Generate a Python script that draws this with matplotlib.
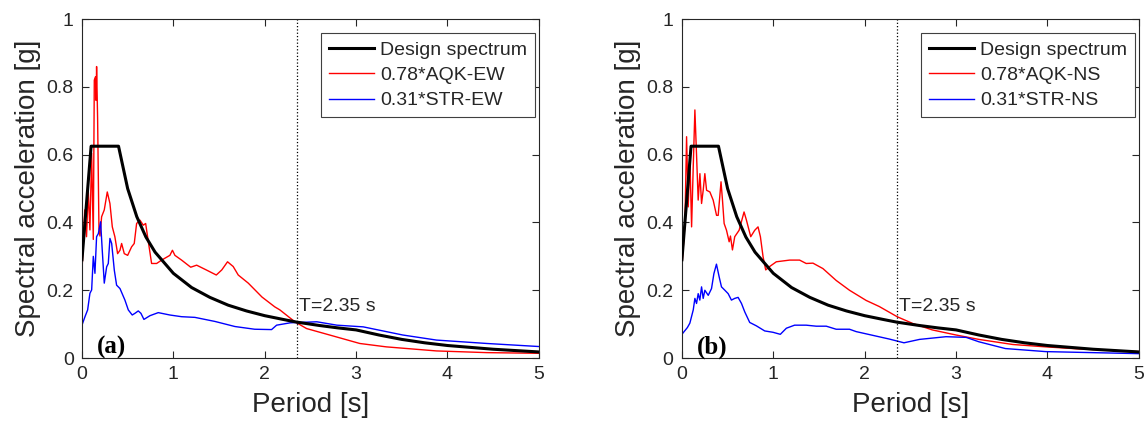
import matplotlib
matplotlib.use("Agg")
import matplotlib.pyplot as plt

plt.rcParams['font.family'] = ['Liberation Sans', 'DejaVu Sans']

# Design spectrum (same for both components)
ds_T = [0, 0.1, 0.4, 0.5, 0.6, 0.7, 0.8, 1.0, 1.2, 1.4, 1.6, 1.8, 2.0, 2.2, 2.35,
        2.6, 2.8, 3.0, 3.25, 3.5, 3.75, 4.0, 4.5, 5.0]
ds_Sa = [0.29, 0.625, 0.625, 0.50, 0.417, 0.357, 0.3125, 0.25, 0.208, 0.179, 0.156,
         0.139, 0.125, 0.114, 0.106, 0.096, 0.089, 0.083, 0.068, 0.055, 0.045,
         0.037, 0.026, 0.018]

# (a) EW component
aqk_ew_T = [0, 0.03, 0.05, 0.069, 0.087, 0.106, 0.124, 0.135, 0.149, 0.155, 0.16,
            0.171, 0.186, 0.197, 0.215, 0.244, 0.277, 0.306, 0.332, 0.36, 0.39,
            0.416, 0.434, 0.463, 0.5, 0.543, 0.572, 0.598, 0.634, 0.671, 0.697,
            0.718, 0.762, 0.817, 0.872, 0.962, 0.99, 1.017, 1.09, 1.19, 1.255,
            1.36, 1.47, 1.53, 1.593, 1.655, 1.71, 1.82, 1.97, 2.11, 2.166, 2.33,
            2.458, 2.71, 3.04, 3.33, 3.88, 4.43, 5.0]
aqk_ew_Sa = [0.255, 0.437, 0.358, 0.496, 0.378, 0.604, 0.35, 0.82, 0.83, 0.76, 0.86,
             0.71, 0.38, 0.36, 0.417, 0.437, 0.49, 0.456, 0.387, 0.358, 0.308,
             0.318, 0.338, 0.308, 0.303, 0.328, 0.338, 0.397, 0.407, 0.392, 0.397,
             0.358, 0.279, 0.279, 0.289, 0.303, 0.318, 0.303, 0.289, 0.268, 0.274,
             0.26, 0.245, 0.26, 0.284, 0.27, 0.245, 0.221, 0.18, 0.151, 0.142, 0.107,
             0.087, 0.068, 0.043, 0.033, 0.021, 0.016, 0.014]

str_ew_T = [0, 0.033, 0.062, 0.087, 0.106, 0.124, 0.142, 0.16, 0.179, 0.204, 0.222,
            0.244, 0.27, 0.288, 0.306, 0.325, 0.354, 0.379, 0.416, 0.47, 0.507,
            0.55, 0.58, 0.616, 0.645, 0.678, 0.744, 0.835, 0.962, 1.09, 1.236,
            1.455, 1.674, 1.89, 2.075, 2.13, 2.28, 2.57, 2.79, 3.078, 3.51, 3.88,
            4.43, 5.0]
str_ew_Sa = [0.097, 0.122, 0.142, 0.191, 0.201, 0.30, 0.25, 0.358, 0.367, 0.402,
             0.318, 0.221, 0.269, 0.279, 0.353, 0.338, 0.259, 0.215, 0.205, 0.171,
             0.142, 0.127, 0.132, 0.139, 0.132, 0.114, 0.125, 0.134, 0.127, 0.122,
             0.12, 0.108, 0.093, 0.085, 0.084, 0.097, 0.104, 0.107, 0.097, 0.092,
             0.068, 0.053, 0.043, 0.034]

# (b) NS component
aqk_ns_T = [0, 0.033, 0.051, 0.069, 0.087, 0.106, 0.124, 0.142, 0.16, 0.178, 0.197,
            0.215, 0.233, 0.251, 0.27, 0.306, 0.342, 0.379, 0.397, 0.428, 0.444,
            0.462, 0.488, 0.517, 0.531, 0.553, 0.578, 0.626, 0.68, 0.706, 0.753,
            0.797, 0.833, 0.859, 0.888, 0.917, 0.96, 1.033, 1.179, 1.288, 1.36,
            1.434, 1.543, 1.688, 1.834, 2.016, 2.16, 2.355, 2.526, 2.74, 3.0, 3.25,
            3.62, 3.98, 4.34, 5.0]
aqk_ns_Sa = [0.27, 0.397, 0.653, 0.446, 0.594, 0.387, 0.565, 0.732, 0.6, 0.466,
             0.544, 0.456, 0.495, 0.544, 0.495, 0.49, 0.466, 0.421, 0.421, 0.52,
             0.466, 0.397, 0.377, 0.343, 0.36, 0.319, 0.358, 0.377, 0.431, 0.407,
             0.358, 0.377, 0.387, 0.358, 0.299, 0.26, 0.27, 0.284, 0.289, 0.289,
             0.279, 0.28, 0.264, 0.229, 0.2, 0.17, 0.152, 0.122, 0.102, 0.083,
             0.068, 0.055, 0.04, 0.033, 0.027, 0.019]

str_ns_T = [0, 0.03, 0.06, 0.087, 0.124, 0.142, 0.16, 0.178, 0.196, 0.215, 0.233,
            0.251, 0.288, 0.324, 0.35, 0.378, 0.408, 0.433, 0.47, 0.506, 0.542,
            0.578, 0.615, 0.652, 0.688, 0.742, 0.815, 0.906, 0.997, 1.077, 1.143,
            1.233, 1.36, 1.47, 1.58, 1.688, 1.834, 1.907, 2.27, 2.43, 2.6, 2.89,
            3.11, 3.25, 3.54, 3.98, 5.0]
str_ns_Sa = [0.07, 0.08, 0.09, 0.103, 0.142, 0.176, 0.161, 0.19, 0.171, 0.21,
             0.176, 0.2, 0.185, 0.205, 0.249, 0.277, 0.239, 0.21, 0.2, 0.19, 0.171,
             0.176, 0.179, 0.161, 0.136, 0.105, 0.095, 0.08, 0.076, 0.07, 0.088,
             0.097, 0.097, 0.094, 0.094, 0.085, 0.085, 0.078, 0.056, 0.045, 0.055,
             0.063, 0.061, 0.048, 0.028, 0.019, 0.013]

T_target = 2.35
x_ticks = [0, 1, 2, 3, 4, 5]
y_ticks = [0, 0.2, 0.4, 0.6, 0.8, 1]
y_ticklabels = ["0", "0.2", "0.4", "0.6", "0.8", "1"]

panels = [
    ("(a)", "0.78*AQK-EW", "0.31*STR-EW", aqk_ew_T, aqk_ew_Sa, str_ew_T, str_ew_Sa),
    ("(b)", "0.78*AQK-NS", "0.31*STR-NS", aqk_ns_T, aqk_ns_Sa, str_ns_T, str_ns_Sa),
]

txt = '#262626'
fig = plt.figure(figsize=(11.48, 4.34), dpi=100)
lefts = [0.0714, 0.594]

for left, (tag, lab_r, lab_b, tr, sr, tb, sb) in zip(lefts, panels):
    ax = fig.add_axes([left, 0.175, 0.398, 0.781])
    ax.plot(ds_T, ds_Sa, color='black', lw=2.2, label='Design spectrum', zorder=3)
    ax.plot(tr, sr, color='#ff0000', lw=1.0, label=lab_r, zorder=2)
    ax.plot(tb, sb, color='#0000ff', lw=1.0, label=lab_b, zorder=2)
    ax.axvline(T_target, color='black', ls=':', lw=0.9)
    ax.text(T_target + 0.03, 0.14, "T=2.35 s", fontsize=14, color=txt)
    ax.text(0.16, 0.012, tag, fontsize=18, fontweight='bold',
            family=['Liberation Serif'], color='black')

    ax.set_xlim(0, 5)
    ax.set_ylim(0, 1)
    ax.set_xticks(x_ticks)
    ax.set_yticks(y_ticks)
    ax.set_yticklabels(y_ticklabels)
    ax.tick_params(direction='in', top=True, right=True, length=5, width=0.8,
                   labelsize=14, colors=txt, pad=6)
    for s in ax.spines.values():
        s.set_color(txt)
        s.set_linewidth(0.8)
    ax.set_xlabel("Period [s]", fontsize=20, color=txt, labelpad=6)
    ax.set_ylabel("Spectral acceleration [g]", fontsize=20, color=txt, labelpad=4)

    leg = ax.legend(loc='upper right', bbox_to_anchor=(0.992, 0.958),
                    borderaxespad=0, fontsize=14, handlelength=2.3,
                    handletextpad=0.35, labelspacing=0.4, borderpad=0.4,
                    fancybox=False, framealpha=1)
    leg.get_frame().set_edgecolor('#404040')
    leg.get_frame().set_linewidth(0.8)
    for t in leg.get_texts():
        t.set_color(txt)

fig.savefig("out.png", dpi=100)
